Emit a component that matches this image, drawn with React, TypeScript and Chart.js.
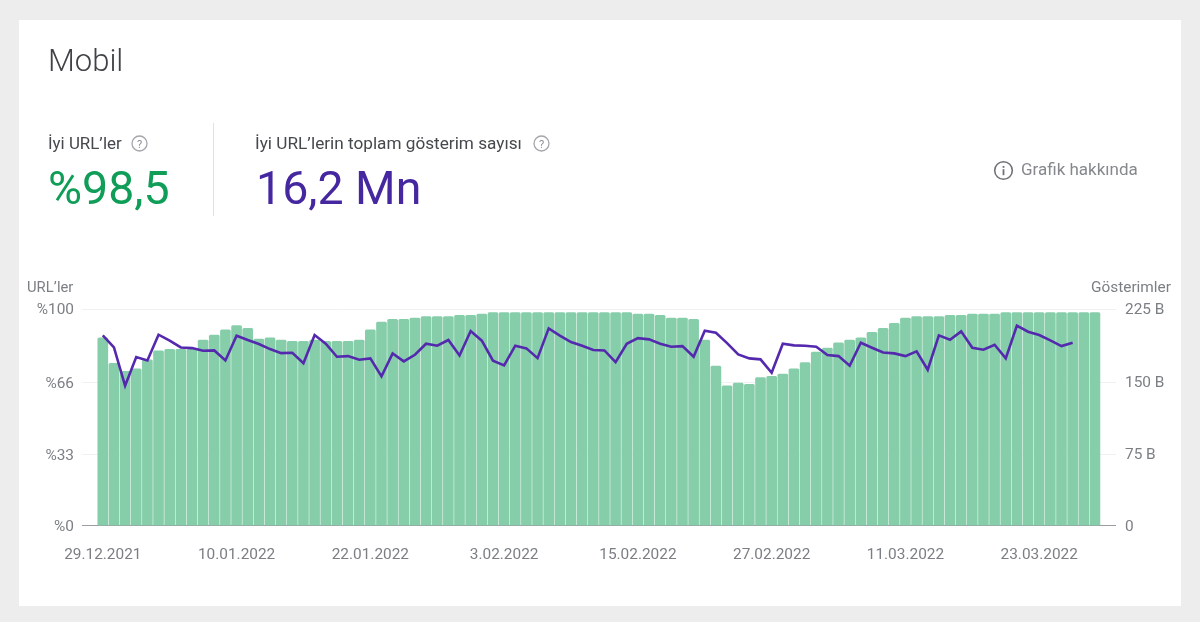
import { useEffect, useRef, type CSSProperties } from 'react';
import { Chart, registerables, type ChartConfiguration } from 'chart.js';

Chart.register(...registerables);

const FONT = 'Roboto, sans-serif';
const TICK_COLOR = '#7b7f84';

// one bar per day, 29.12.2021 onwards
const goodUrlPct = [
  86.7, 74.9, 71.2, 72.4, 76.6, 80.7, 81.4, 81.4, 81.4, 85.7,
  88.0, 90.4, 92.3, 91.1, 86.1, 86.7, 85.7, 85.1, 85.1, 85.7,
  85.1, 85.1, 85.1, 85.7, 90.4, 94.0, 95.2, 95.2, 95.8, 96.5,
  96.5, 96.5, 97.1, 97.1, 97.7, 98.3, 98.3, 98.3, 98.3, 98.3,
  98.3, 98.3, 98.3, 98.3, 98.3, 98.3, 98.3, 98.3, 97.7, 97.7,
  97.1, 95.8, 95.8, 95.2, 85.7, 73.7, 64.6, 65.8, 65.2, 68.3,
  68.9, 70.0, 72.4, 75.3, 80.1, 82.0, 84.4, 85.7, 86.7, 89.2,
  91.1, 93.4, 95.8, 96.5, 96.5, 96.5, 97.1, 97.1, 97.7, 97.7,
  97.7, 98.3, 98.3, 98.3, 98.3, 98.3, 98.3, 98.3, 98.3, 98.3,
];

// billions, stops two days before the bars do
const impressions = [
  197.6, 185.1, 145.3, 175.1, 171.6, 198.3, 192.1, 185.1, 184.4, 181.7,
  182.0, 171.6, 197.3, 192.8, 188.6, 183.4, 179.2, 179.6, 168.8, 198.0,
  188.9, 175.4, 176.1, 172.3, 173.7, 155.0, 178.9, 170.6, 177.5, 188.9,
  186.9, 192.8, 176.8, 202.1, 192.1, 171.3, 166.4, 186.9, 184.1, 174.0,
  204.9, 197.3, 190.7, 186.9, 182.4, 182.0, 169.9, 188.9, 194.8, 193.5,
  188.9, 185.8, 186.5, 175.4, 202.5, 200.4, 189.6, 177.9, 173.7, 172.7,
  158.8, 188.9, 187.2, 186.9, 185.8, 177.2, 176.1, 166.1, 190.0, 184.8,
  179.9, 178.9, 176.1, 181.0, 161.9, 197.6, 193.1, 201.8, 184.8, 182.7,
  187.9, 173.7, 207.7, 201.4, 198.0, 192.4, 186.5, 190.0,
];

const dateTickIndex = [0, 12, 24, 36, 48, 60, 72, 84];
const dateTickLabels = ['29.12.2021', '10.01.2022', '22.01.2022', '3.02.2022', '15.02.2022', '27.02.2022', '11.03.2022', '23.03.2022'];
const urlTicks = [0, 33, 66, 100];
const impressionTicks = [0, 75, 150, 225];
const impressionTickLabels = ['0', '75 B', '150 B', '225 B'];

const tickFont = { family: FONT, size: 15.4 };

function asTicks(values: number[]) {
  return values.map((value) => ({ value }));
}

const config: ChartConfiguration = {
  type: 'bar',
  data: {
    datasets: [
      {
        type: 'line',
        data: impressions.map((y, x) => ({ x, y })),
        yAxisID: 'yRight',
        borderColor: '#5429ad',
        borderWidth: 2.6,
        pointRadius: 0,
        tension: 0,
        fill: false,
        order: 1,
      },
      {
        type: 'bar',
        data: goodUrlPct.map((y, x) => ({ x, y })),
        yAxisID: 'yLeft',
        backgroundColor: '#86ceaa',
        barThickness: 10,
        borderRadius: { topLeft: 1.5, topRight: 1.5 },
        order: 2,
      },
    ],
  } as any,
  options: {
    responsive: false,
    animation: false,
    layout: { padding: { top: 309, left: 0, right: 0, bottom: 0 } },
    plugins: { legend: { display: false }, tooltip: { enabled: false }, title: { display: false } },
    scales: {
      x: {
        type: 'linear',
        min: -1.866,
        max: 90.89,
        offset: false,
        grid: { display: false },
        border: { display: false },
        afterBuildTicks: (axis: any) => { axis.ticks = asTicks(dateTickIndex); },
        afterFit: (axis: any) => { axis.height = 96.3; },
        ticks: {
          autoSkip: false,
          maxRotation: 0,
          padding: 12,
          color: TICK_COLOR,
          font: tickFont,
          callback: (v: any) => dateTickLabels[dateTickIndex.indexOf(v)] ?? '',
        },
      },
      yLeft: {
        position: 'left',
        min: 0,
        max: 100,
        border: { display: false },
        grid: {
          drawTicks: false,
          color: (ctx: any) => (ctx.tick.value === 0 ? '#9a9ea3' : '#f0f1f2'),
          lineWidth: 1,
        },
        afterBuildTicks: (axis: any) => { axis.ticks = asTicks(urlTicks); },
        afterFit: (axis: any) => { axis.width = 82; },
        ticks: {
          padding: 8,
          labelOffset: 1.5,
          color: TICK_COLOR,
          font: tickFont,
          callback: (v: any) => `%${v}`,
        },
      },
      yRight: {
        position: 'right',
        min: 0,
        max: 225,
        border: { display: false },
        grid: { display: false, drawTicks: false },
        afterBuildTicks: (axis: any) => { axis.ticks = asTicks(impressionTicks); },
        afterFit: (axis: any) => { axis.width = 84; },
        ticks: {
          padding: 9,
          labelOffset: 1.5,
          color: TICK_COLOR,
          font: tickFont,
          callback: (v: any) => impressionTickLabels[impressionTicks.indexOf(v)] ?? '',
        },
      },
    },
  },
};

function at(left: number, top: number, extra: CSSProperties = {}): CSSProperties {
  return { position: 'absolute', left, top, whiteSpace: 'nowrap', lineHeight: 1, ...extra };
}

function HelpIcon({ left, top }: { left: number; top: number }) {
  return (
    <svg width={17} height={17} viewBox="0 0 17 17" style={at(left, top)}>
      <circle cx={8.5} cy={8.5} r={7.5} fill="none" stroke="#a3a6aa" strokeWidth={1.3} />
      <text x={8.5} y={12.5} textAnchor="middle" fontSize={11} fontFamily={FONT} fill="#8a8d91">?</text>
    </svg>
  );
}

export default function App() {
  const ref = useRef<HTMLCanvasElement>(null);

  useEffect(() => {
    if (!ref.current) return;
    const chart = new Chart(ref.current, config);
    return () => chart.destroy();
  }, []);

  return (
    <div style={{ position: 'absolute', left: 0, top: 0, width: 1200, height: 622, background: '#ededed', overflow: 'hidden', fontFamily: FONT }}>
      <div style={{ position: 'absolute', left: 19, top: 20, width: 1162, height: 586, background: '#fff' }} />
      <canvas ref={ref} width={1200} height={622} style={{ position: 'absolute', left: 0, top: 0 }} />

      <div style={at(48, 45, { fontSize: 31, fontWeight: 300, color: '#3f4246' })}>Mobil</div>

      <div style={at(48, 135, { fontSize: 16.9, color: '#45484c' })}>İyi URL’ler</div>
      <HelpIcon left={131} top={135} />
      <div style={at(48, 165, { fontSize: 46.5, color: '#0f9d58' })}>%98,5</div>

      <div style={{ position: 'absolute', left: 213, top: 123, width: 1, height: 93, background: '#dfe1e3' }} />

      <div style={at(255, 135, { fontSize: 17.2, color: '#45484c' })}>İyi URL’lerin toplam gösterim sayısı</div>
      <HelpIcon left={533} top={135} />
      <div style={at(256, 165, { fontSize: 46.5, color: '#4527a0' })}>16,2 Mn</div>

      <svg width={21} height={21} viewBox="0 0 21 21" style={at(993, 160)}>
        <circle cx={10.5} cy={10.5} r={8.8} fill="none" stroke="#6f7276" strokeWidth={1.6} />
        <rect x={9.6} y={9.2} width={1.8} height={6} fill="#6f7276" />
        <rect x={9.6} y={6} width={1.8} height={1.8} fill="#6f7276" />
      </svg>
      <div style={at(1021, 161, { fontSize: 17, color: '#85888c' })}>Grafik hakkında</div>

      <div style={at(27, 280, { fontSize: 14.8, color: TICK_COLOR })}>URL’ler</div>
      <div style={at(1091, 280, { fontSize: 15.4, color: TICK_COLOR })}>Gösterimler</div>
    </div>
  );
}
